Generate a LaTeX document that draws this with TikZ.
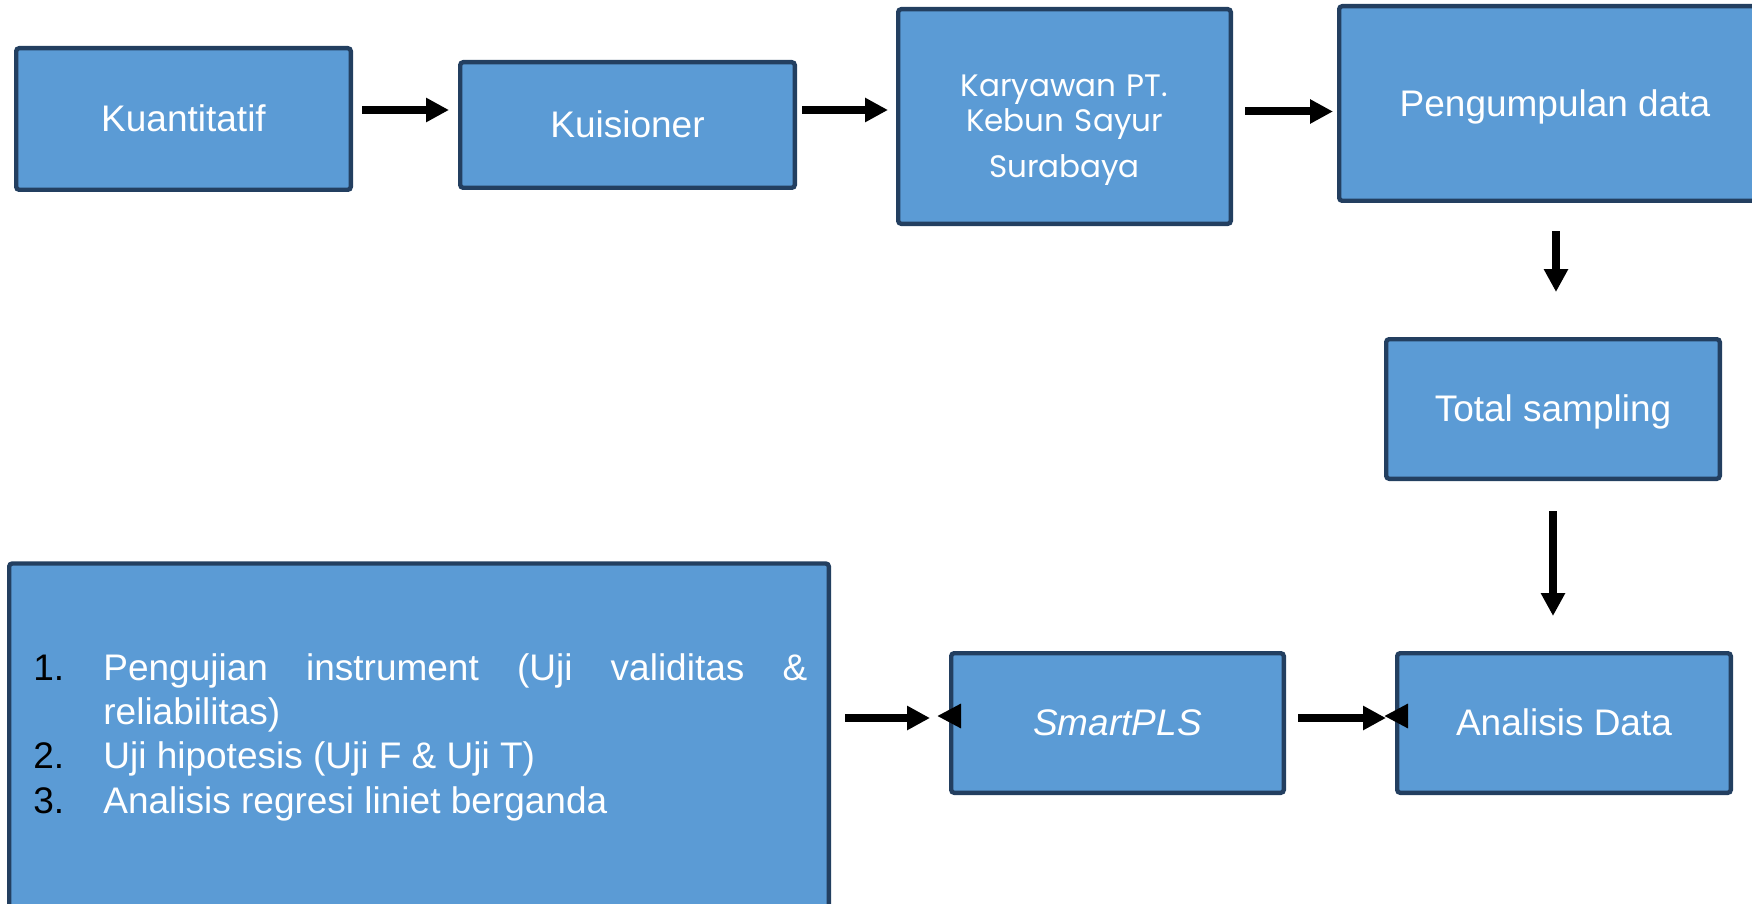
\documentclass[tikz,border=0pt]{standalone}
\usepackage{fontspec}
\setmainfont{Liberation Sans}
\newfontfamily\gothicfont{Poppins}
\usetikzlibrary{arrows.meta}
\definecolor{boxfill}{RGB}{91,155,213}
\definecolor{boxline}{RGB}{35,63,96}
\newcommand\listitem[2]{\hangindent=35pt\hangafter=1\noindent\makebox[35pt][l]{\color{black}#1}#2}

\begin{document}
\begin{tikzpicture}[x=0.5pt, y=-0.5pt,
    box/.style={draw=boxline, fill=boxfill, line width=2.2pt, rounded corners=1.5pt, text=white, inner sep=0pt,
        font=\fontsize{18.5}{22.2}\selectfont, text height=16.7pt, text depth=3.9pt},
    arr/.style={line width=4pt, -{Triangle[length=11.5pt,width=11.5pt]}},
    backtip/.style={line width=4pt, -{Triangle[length=12pt,width=11.5pt]}}]
    \useasboundingbox (0,0) rectangle (1752,904);
    \node[box, minimum width=167.3pt, minimum height=70.8pt] (kuan) at (183.5,119) {Kuantitatif};
    \node[box, minimum width=167.3pt, minimum height=62.8pt] (kuis) at (627.5,125) {Kuisioner};
    \node[box, minimum width=166.3pt, minimum height=107.3pt] (kary) at (1064.5,116.5) {};
    \node[text=white, text width=300pt, align=center, inner sep=0pt, anchor=base,
        font=\gothicfont\fontsize{15.5}{17.5}\selectfont] (karytext) at (1064.5,97)
        {Karyawan PT.\\Kebun Sayur\\[5.5pt]Surabaya};
    \node[box, minimum width=215.8pt, minimum height=97.3pt] (kumpul) at (1555,103.5) {Pengumpulan data};
    \node[box, minimum width=166.8pt, minimum height=69.8pt] (total) at (1553,409) {Total sampling};
    \node[box, minimum width=166.3pt, minimum height=69.8pt] (smart) at (1117.5,723) {\itshape SmartPLS};
    \node[box, minimum width=166.8pt, minimum height=69.8pt] (anal) at (1564,723) {Analisis Data};
    \node[box, minimum width=409.8pt, minimum height=187pt] (uji) at (419,750.5) {};
    \node[text=white, text width=387pt, align=justify, inner sep=0pt, anchor=base west,
        font=\fontsize{18.5}{22.2}\selectfont] (ujitext) at (33,680)
        {\tolerance=10000 \hyphenpenalty=10000 %
         \listitem{1.}{Pengujian instrument (Uji validitas \& reliabilitas)}\par
         \listitem{2.}{Uji hipotesis (Uji F \& Uji T)}\par
         \listitem{3.}{Analisis regresi liniet berganda}};

    \draw[arr, shorten <=4.5pt, shorten >=4.5pt] ([yshift=4.5pt]kuan.east) -- ([yshift=4.5pt]kuan.east -| kuis.west);
    \draw[arr, shorten <=2.5pt, shorten >=4pt] ([yshift=7.5pt]kuis.east) -- ([yshift=7.5pt]kuis.east -| kary.west);
    \draw[arr, shorten <=6pt, shorten >=2pt] ([yshift=2.5pt]kary.east) -- ([yshift=2.5pt]kary.east -| kumpul.west);
    \draw[arr, shorten <=14pt, shorten >=22.5pt] ([xshift=0.5pt]kumpul.south) -- ([xshift=0.5pt]kumpul.south |- total.north);
    \draw[arr, shorten <=15pt, shorten >=17.5pt] (total.south) -- (total.south |- anal.north);
    \draw[arr, shorten <=7pt, shorten >=9.5pt] ([yshift=2.5pt]smart.west -| uji.east) -- ([yshift=2.5pt]smart.west);
    \draw[arr, shorten <=6pt, shorten >=4.5pt] ([yshift=2.5pt]smart.east) -- ([yshift=2.5pt]anal.west);
    \draw[backtip] ([xshift=6pt,yshift=3.5pt]smart.west) -- ([xshift=-6pt,yshift=3.5pt]smart.west);
    \draw[backtip] ([xshift=6.5pt,yshift=3.5pt]anal.west) -- ([xshift=-5.5pt,yshift=3.5pt]anal.west);
\end{tikzpicture}
\end{document}
